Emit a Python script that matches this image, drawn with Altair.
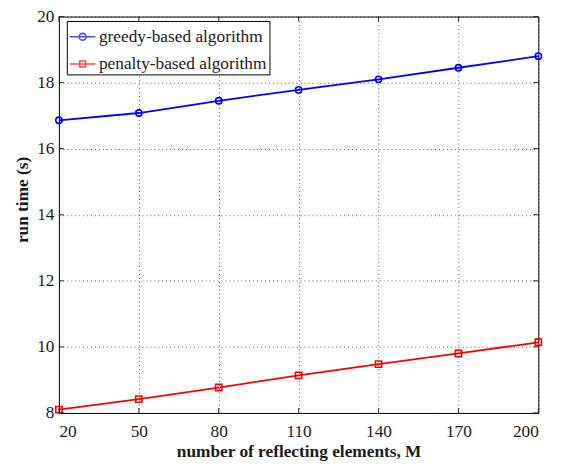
import altair as alt
import pandas as pd

# ---- data ----
M = [20, 50, 80, 110, 140, 170, 200]
greedy = [16.86, 17.08, 17.45, 17.78, 18.10, 18.45, 18.80]
penalty = [8.10, 8.42, 8.77, 9.14, 9.48, 9.80, 10.14]
series_names = ["greedy-based algorithm", "penalty-based algorithm"]
series_colors = ["#0000ff", "#ff0000"]
series_shapes = ["circle", "square"]
legend_paths = [
    "M-1,0H1M0.27,0A0.27,0.27 0 1,1 -0.27,0A0.27,0.27 0 1,1 0.27,0",
    "M-1,0H1M-0.23,-0.23H0.23V0.23H-0.23Z",
]
x_ticks = [20, 50, 80, 110, 140, 170, 200]
y_ticks = [8, 10, 12, 14, 16, 18, 20]

W, H = 485, 401
FONT = "Liberation Serif, Times New Roman, serif"
TXT = "#1a1a1a"
FS = 17.5

df = pd.DataFrame({
    "M": M + M,
    "t": greedy + penalty,
    "series": [series_names[0]] * len(M) + [series_names[1]] * len(M),
})
xt = pd.DataFrame({"v": x_ticks})
yt = pd.DataFrame({"v": y_ticks})

xs = alt.Scale(domain=[20, 200], nice=False, zero=False)
ys = alt.Scale(domain=[8, 20], nice=False, zero=False)

xax = alt.Axis(values=x_ticks, title="number of reflecting elements, M", grid=True,
               ticks=False, domain=False, labelFont=FONT, labelFontSize=FS,
               labelColor=TXT, labelPadding=10, titleFont=FONT, titleFontSize=FS,
               titleFontWeight="bold", titleColor=TXT, titlePadding=3,
               gridColor="#000000", gridDash=[1, 3], gridOpacity=0.65)
yax = alt.Axis(values=y_ticks, title="run time (s)", grid=True, ticks=False,
               domain=False, labelFont=FONT, labelFontSize=FS, labelColor=TXT,
               labelPadding=5, titleFont=FONT, titleFontSize=FS,
               titleFontWeight="bold", titleColor=TXT, titlePadding=5, titleY=185,
               gridColor="#000000", gridDash=[1, 3], gridOpacity=0.65)

X = alt.X("M:Q", scale=xs, axis=xax)
Y = alt.Y("t:Q", scale=ys, axis=yax)

layers = []
for name, col, shp in zip(series_names, series_colors, series_shapes):
    sub = alt.Chart(df).transform_filter(alt.datum.series == name)
    layers.append(sub.mark_line(color=col, strokeWidth=1.8).encode(x=X, y=Y))
    layers.append(sub.mark_point(color=col, shape=shp, filled=False, size=40,
                                 strokeWidth=1.6, opacity=1).encode(x=X, y=Y))

# inward tick marks (MATLAB style) on all four sides
tick_col = "#262626"
layers.append(alt.Chart(xt).mark_rule(color=tick_col).encode(
    x=alt.X("v:Q", scale=xs, axis=xax), y=alt.value(H), y2=alt.value(H - 5)))
layers.append(alt.Chart(xt).mark_rule(color=tick_col).encode(
    x=alt.X("v:Q", scale=xs, axis=xax), y=alt.value(0), y2=alt.value(5)))
layers.append(alt.Chart(yt).mark_rule(color=tick_col).encode(
    y=alt.Y("v:Q", scale=ys, axis=yax), x=alt.value(0), x2=alt.value(5)))
layers.append(alt.Chart(yt).mark_rule(color=tick_col).encode(
    y=alt.Y("v:Q", scale=ys, axis=yax), x=alt.value(W - 5), x2=alt.value(W)))

leg = alt.Legend(title=None, orient="none", legendX=8, legendY=4.5,
                 fillColor="white", strokeColor="#000000", padding=2,
                 rowPadding=4.5, labelOffset=2.5, labelFont=FONT,
                 labelFontSize=FS, labelColor=TXT, labelLimit=400,
                 symbolSize=676, symbolStrokeWidth=1.6, cornerRadius=0)

layers.append(alt.Chart(df).transform_filter(alt.datum.M < 0).mark_point(
    filled=False).encode(
    x=X, y=Y,
    color=alt.Color("series:N", scale=alt.Scale(domain=series_names, range=series_colors), legend=leg),
    shape=alt.Shape("series:N", scale=alt.Scale(domain=series_names, range=legend_paths), legend=leg),
))

chart = alt.layer(*layers).properties(
    width=W, height=H,
    autosize=alt.AutoSizeParams(type="none"),
    padding={"left": 51.5, "top": 6, "right": 30, "bottom": 50},
).configure_view(stroke="#000000", strokeWidth=1)

chart.save("out.html", embed_options={"renderer": "svg", "actions": False})
